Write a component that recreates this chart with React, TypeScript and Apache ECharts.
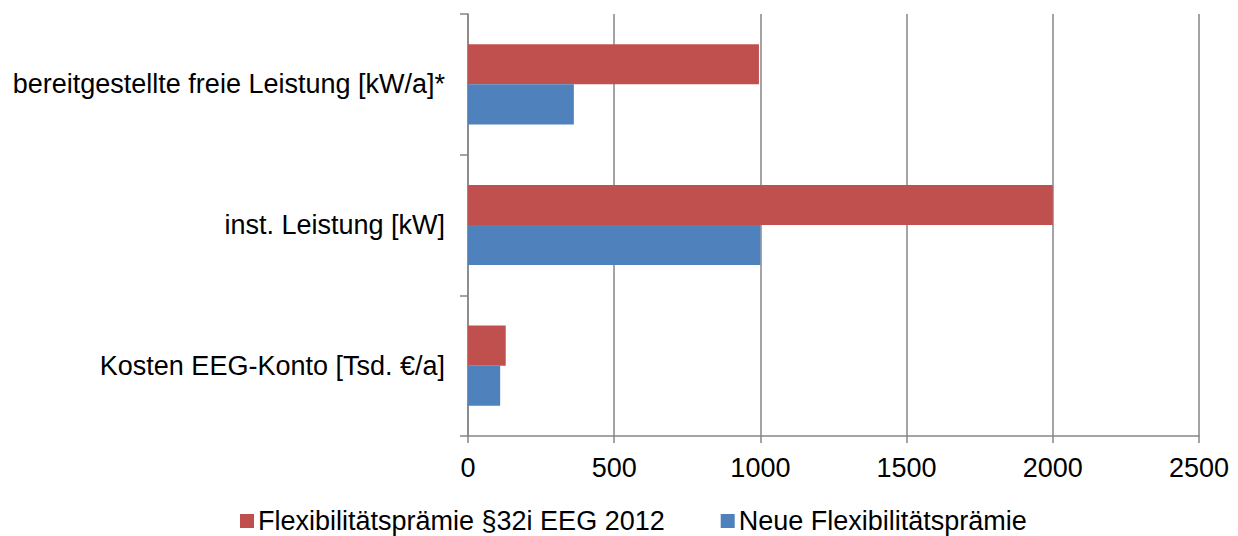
import React, { useEffect, useRef } from "react";
import * as echarts from "echarts";

const categories = ["Kosten EEG-Konto [Tsd. €/a]", "inst. Leistung [kW]", "bereitgestellte freie Leistung [kW/a]*"];
const seriesNames = ["Flexibilitätsprämie §32i EEG 2012", "Neue Flexibilitätsprämie"];
const oldValues = [129, 2000, 995];
const newValues = [110, 1000, 362];
const xTicks = [0, 500, 1000, 1500, 2000, 2500];

export default function App() {
  const ref = useRef<HTMLDivElement>(null);
  useEffect(() => {
    document.body.style.margin = "0";
    const chart = echarts.init(ref.current!, null, { renderer: "svg" });
    const font = "'Liberation Sans', Arial, sans-serif";
    chart.setOption({
      animation: false,
      textStyle: { fontFamily: font },
      grid: { left: 468, right: 39, top: 14, bottom: 100, containLabel: false },
      legend: {
        data: seriesNames,
        top: 506,
        left: 240,
        padding: 0,
        itemWidth: 14,
        itemHeight: 14,
        itemGap: 56,
        icon: "rect",
        textStyle: { fontSize: 27, lineHeight: 30, color: "#000", fontFamily: font, padding: [0, 0, 0, -1] },
      },
      xAxis: {
        type: "value",
        min: xTicks[0],
        max: xTicks[xTicks.length - 1],
        interval: 500,
        axisLine: { show: true, lineStyle: { color: "#868686", width: 1.5 } },
        axisTick: { show: true, length: 7, lineStyle: { color: "#868686", width: 1.5 } },
        splitLine: { show: true, lineStyle: { color: "#868686", width: 1.5 } },
        axisLabel: { fontSize: 27, color: "#000", margin: 18, fontFamily: font, formatter: (v: number) => String(v) },
      },
      yAxis: {
        type: "category",
        data: categories,
        axisLine: { show: true, lineStyle: { color: "#868686", width: 1.5 } },
        axisTick: { show: true, length: 8, alignWithLabel: false, lineStyle: { color: "#868686", width: 1.5 } },
        axisLabel: { fontSize: 27, color: "#000", margin: 23, fontFamily: font },
        splitLine: { show: false },
      },
      series: [
        {
          name: seriesNames[0],
          type: "bar",
          data: oldValues,
          itemStyle: { color: "#C0504D" },
          barGap: "0%",
          barCategoryGap: "43%",
        },
        {
          name: seriesNames[1],
          type: "bar",
          data: newValues,
          itemStyle: { color: "#4F81BD" },
          barGap: "0%",
          barCategoryGap: "43%",
        },
      ],
    });
    return () => chart.dispose();
  }, []);
  return <div ref={ref} style={{ width: 1238, height: 536 }} />;
}
